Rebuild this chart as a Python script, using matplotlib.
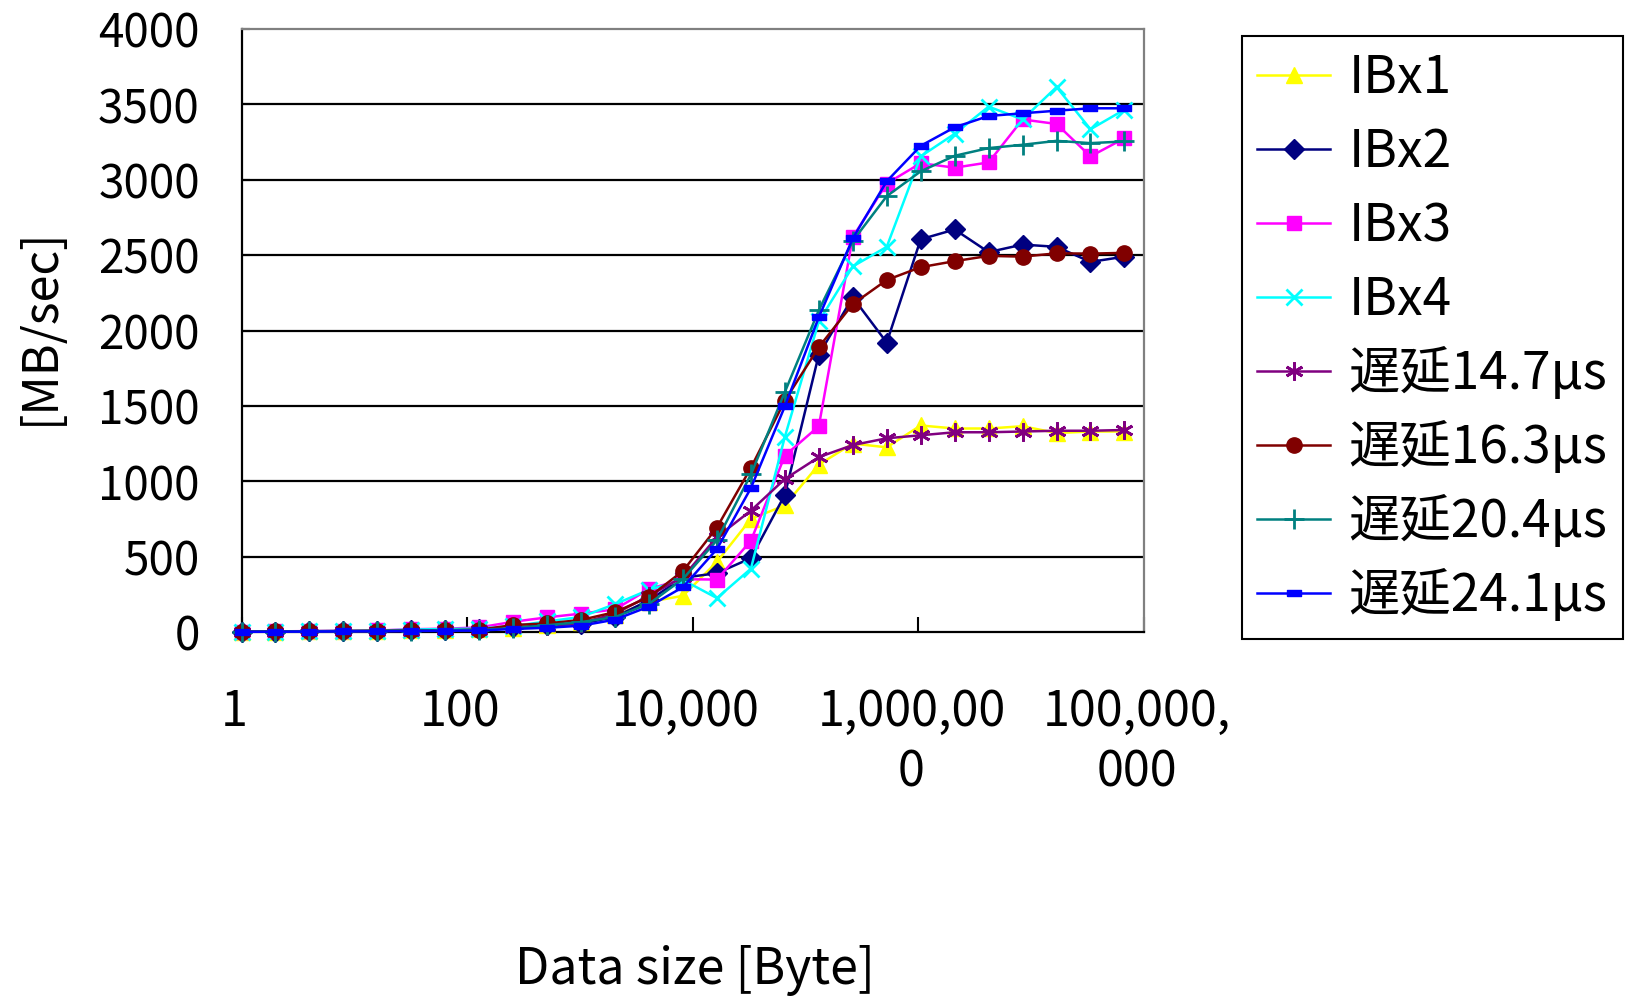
import matplotlib
matplotlib.use('Agg')
import matplotlib.pyplot as plt
import matplotlib.transforms as mtransforms

plt.rcParams['font.family'] = ['Noto Sans CJK JP', 'DejaVu Sans']

# data size [Byte], one point per power of two
sizes = [1, 2, 4, 8, 16, 32, 64, 128, 256, 512, 1024, 2048, 4096, 8192,
         16384, 32768, 65536, 131072, 262144, 524288, 1048576, 2097152,
         4194304, 8388608, 16777216, 33554432, 67108864]

# throughput [MB/sec]
ib_x1 = [2, 3, 5, 6, 8, 10, 12, 18, 28, 45, 65, 110, 200, 240, 465, 750,
         840, 1110, 1250, 1225, 1370, 1350, 1350, 1365, 1320, 1330, 1330]
ib_x2 = [2, 3, 5, 6, 8, 10, 13, 18, 30, 45, 55, 100, 210, 360, 390, 490,
         910, 1840, 2220, 1920, 2605, 2670, 2520, 2570, 2555, 2455, 2490]
ib_x3 = [3, 4, 6, 8, 10, 18, 22, 30, 68, 97, 122, 150, 285, 350, 348, 605,
         1170, 1365, 2620, 2975, 3110, 3080, 3115, 3400, 3370, 3155, 3275]
ib_x4 = [2, 3, 5, 7, 9, 16, 20, 22, 40, 70, 100, 185, 280, 345, 225, 420,
         1295, 2060, 2425, 2555, 3155, 3305, 3485, 3400, 3615, 3335, 3465]
lat_147 = [2, 3, 4, 5, 6, 8, 10, 14, 25, 40, 60, 120, 240, 365, 630, 805,
           1015, 1160, 1240, 1285, 1305, 1325, 1325, 1330, 1335, 1335, 1340]
lat_163 = [3, 4, 5, 6, 8, 10, 12, 15, 46, 57, 80, 132, 232, 405, 693, 1089,
           1535, 1890, 2175, 2335, 2420, 2460, 2495, 2490, 2512, 2510, 2515]
lat_204 = [2, 3, 4, 5, 7, 9, 11, 14, 25, 45, 66, 99, 187, 352, 609, 1045,
           1592, 2135, 2594, 2891, 3056, 3159, 3210, 3232, 3258, 3243, 3254]
lat_241 = [1, 2, 3, 4, 5, 6, 8, 10, 20, 28, 42, 82, 169, 298, 550, 955,
           1497, 2088, 2611, 2990, 3225, 3348, 3423, 3441, 3458, 3474, 3474]

labels = ['IBx1', 'IBx2', 'IBx3', 'IBx4',
          '遅延14.7μs', '遅延16.3μs', '遅延20.4μs', '遅延24.1μs']
xtick_vals = [1, 100, 10000, 1000000, 100000000]
xtick_labels = ['1', '100', '10,000', '1,000,00\n0', '100,000,\n000']
ytick_vals = [0, 500, 1000, 1500, 2000, 2500, 3000, 3500, 4000]

series = [ib_x1, ib_x2, ib_x3, ib_x4, lat_147, lat_163, lat_204, lat_241]
dash = [(-1, -0.45), (1, -0.45), (1, 0.45), (-1, 0.45), (-1, -0.45)]
styles = [
    dict(color='#FFFF00', marker='^', ms=12),
    dict(color='#000080', marker='D', ms=10),
    dict(color='#FF00FF', marker='s', ms=10),
    dict(color='#00FFFF', marker='x', ms=12, mew=2),
    dict(color='#800080', marker=(6, 2, 0), ms=13, mew=2),
    dict(color='#800000', marker='o', ms=11),
    dict(color='#008080', marker='+', ms=14, mew=2),
    dict(color='#0000FF', marker=dash, ms=10),
]

fig = plt.figure(figsize=(16.32, 9.96), dpi=100)
ax = fig.add_axes([241.5 / 1632, 364 / 996, 902.5 / 1632, 603 / 996])

handles = []
for vals, lab, st in zip(series, labels, styles):
    h, = ax.plot(sizes, vals, label=lab, lw=1.8, clip_on=False, zorder=3, **st)
    handles.append(h)

ax.set_xscale('log')
ax.set_xlim(1, 1e8)
ax.set_ylim(0, 4000)
ax.set_xticks(xtick_vals)
ax.set_xticklabels(xtick_labels, fontsize=35, linespacing=1.29)
ax.minorticks_off()
ax.set_yticks(ytick_vals)
ax.set_yticklabels([str(v) for v in ytick_vals], fontsize=33)
ax.tick_params(axis='x', direction='in', length=11, width=1.5, pad=40)
ax.tick_params(axis='y', direction='in', length=6, width=1.5, pad=30)
shift = mtransforms.ScaledTranslation(-7 / 100, 0, fig.dpi_scale_trans)
for t in ax.get_xticklabels():
    t.set_transform(t.get_transform() + shift)

for v in ytick_vals[1:-1]:
    ax.axhline(v, color='black', lw=1.6, zorder=1)

for s in ['left', 'bottom']:
    ax.spines[s].set_color('black')
    ax.spines[s].set_linewidth(1.6)
for s in ['top', 'right']:
    ax.spines[s].set_color('#808080')
    ax.spines[s].set_linewidth(1.6)

fig.text(40 / 1632, 1 - 326 / 996, '[MB/sec]', rotation=90, fontsize=35,
         ha='center', va='center')
fig.text(695 / 1632, 0, 'Data size [Byte]', fontsize=36,
         ha='center', va='bottom')

leg = fig.legend(handles, labels, loc='upper left',
                 bbox_to_anchor=(1242 / 1632, 1 - 36 / 996),
                 bbox_transform=fig.transFigure, borderaxespad=0,
                 fontsize=37, frameon=True, fancybox=False,
                 edgecolor='black', framealpha=1, borderpad=0.3,
                 handlelength=1.42, handletextpad=0.35, labelspacing=0.40)
leg.get_frame().set_linewidth(1.5)

fig.savefig('out.png', dpi=100, facecolor='white')
